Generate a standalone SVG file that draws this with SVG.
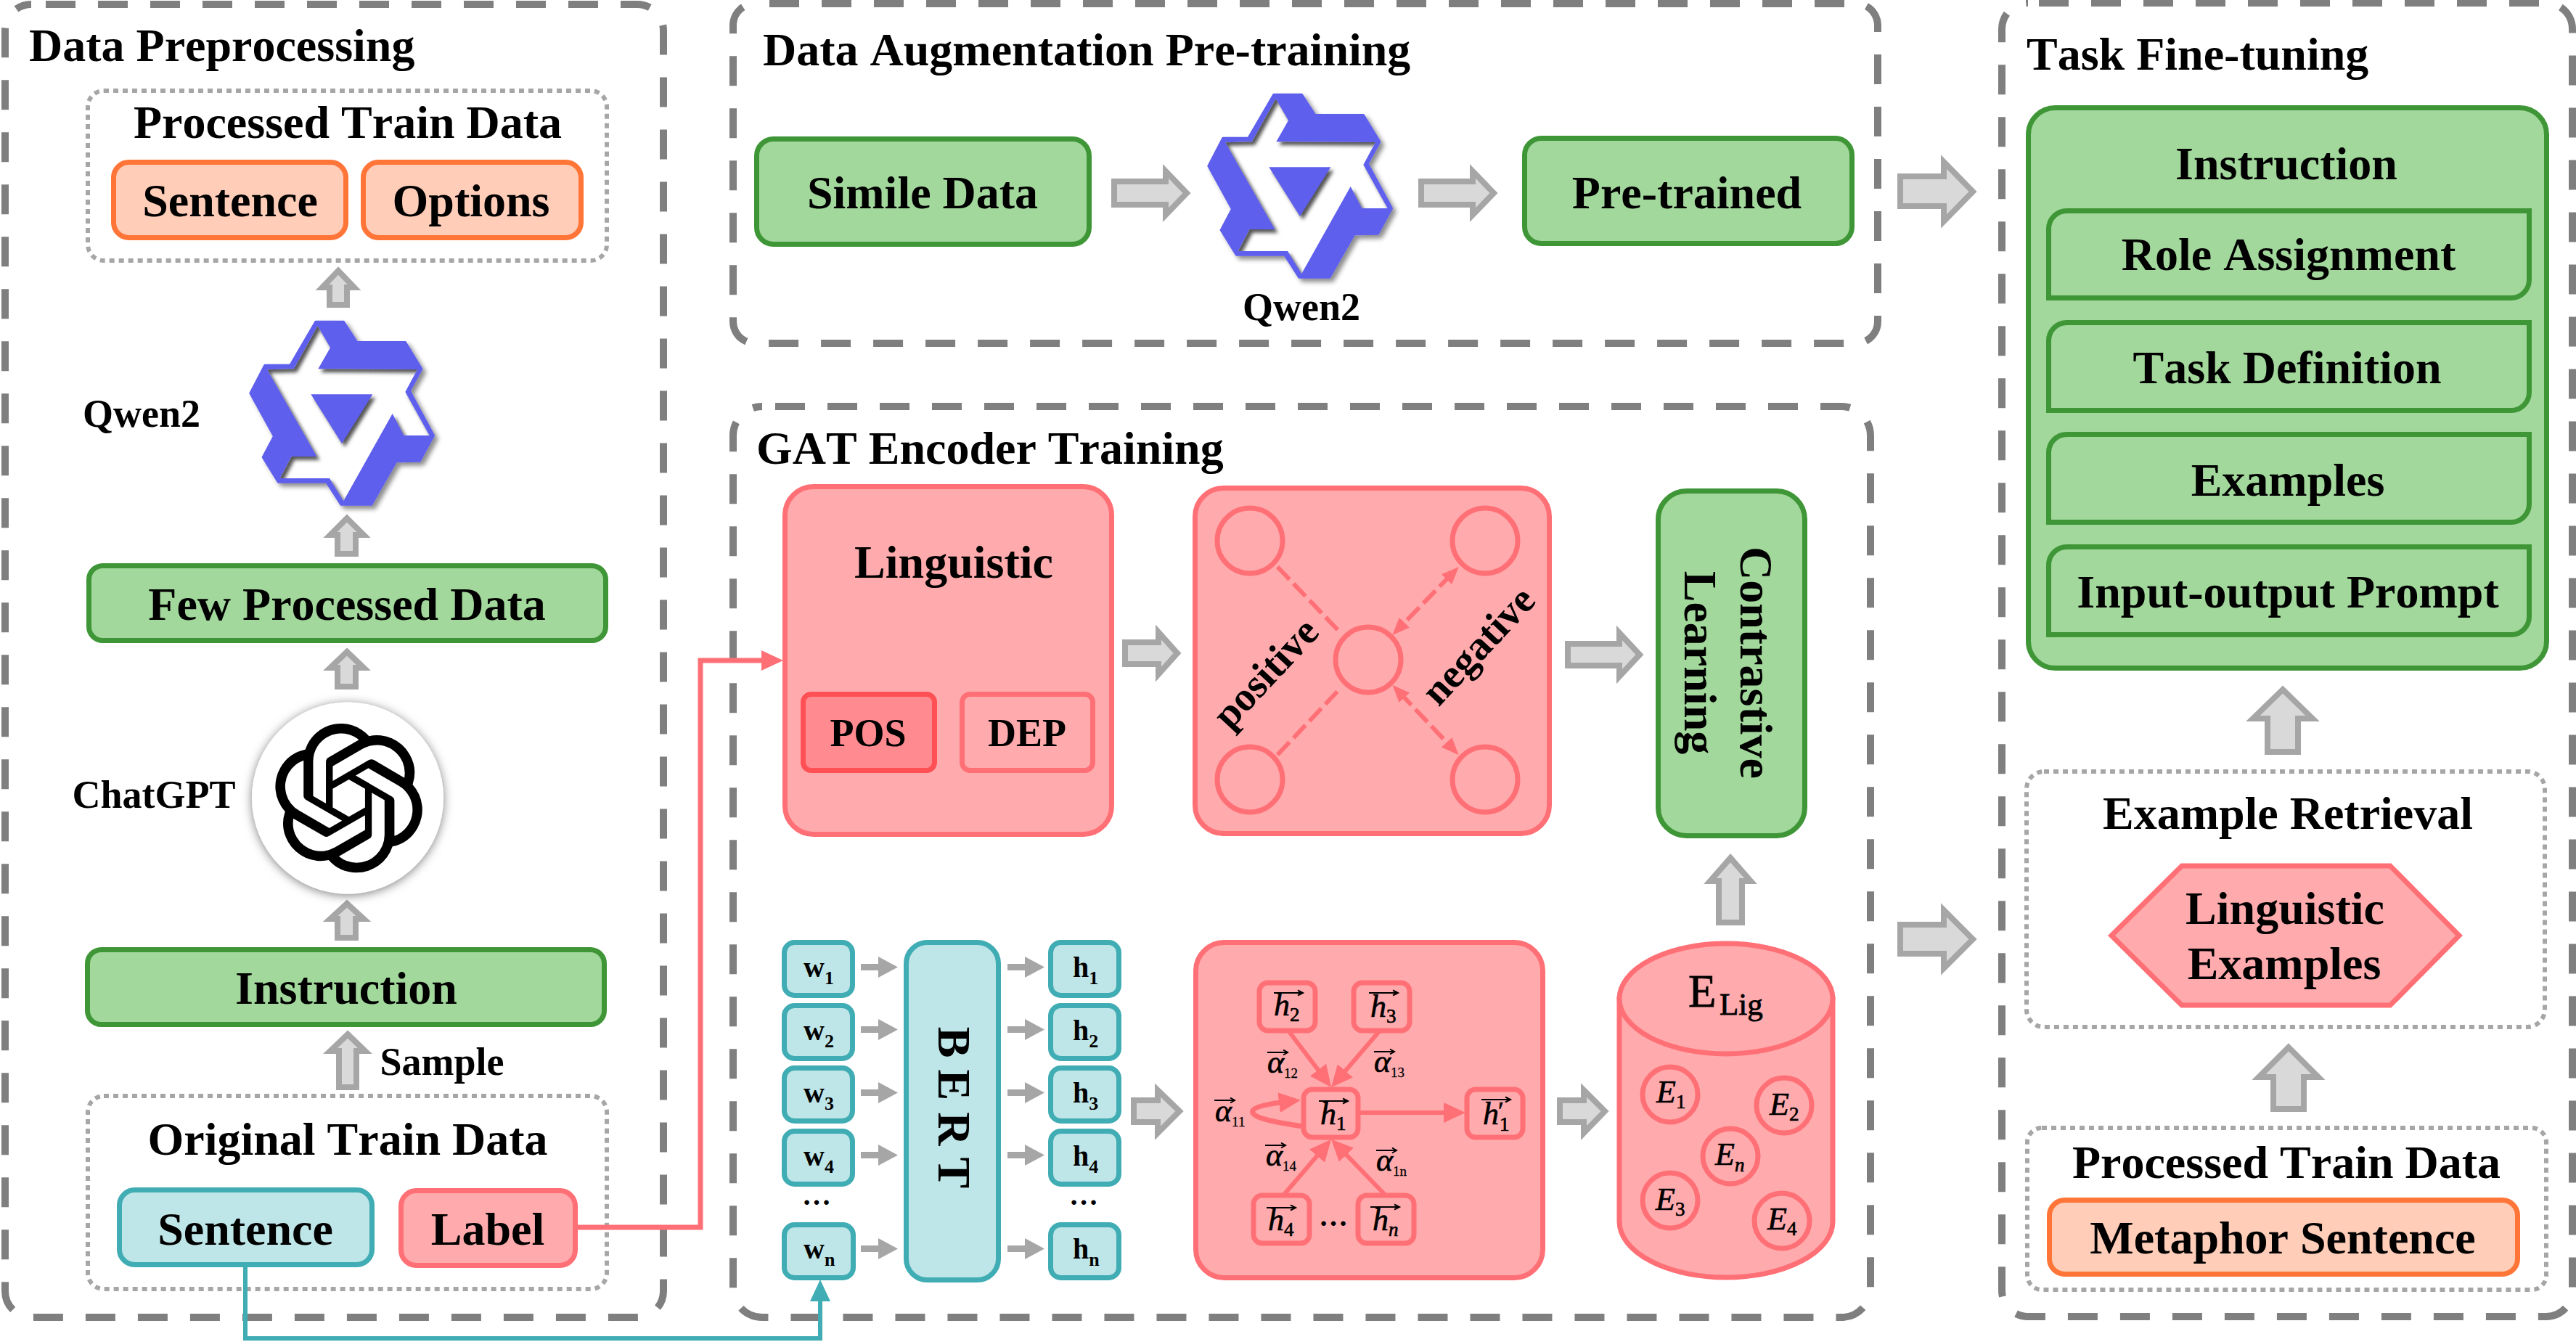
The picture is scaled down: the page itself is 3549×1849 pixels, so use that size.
<svg xmlns="http://www.w3.org/2000/svg" width="3549" height="1849" viewBox="0 0 3549 1849">
<style>
text{font-family:"Liberation Serif","Times New Roman",serif;fill:#000}
.t{font-weight:bold;font-size:64px;text-anchor:middle;font-kerning:none}
.l{font-weight:bold;font-size:54px;text-anchor:middle;font-kerning:none}
.s{font-weight:bold;font-size:40px}
.s tspan{font-size:26px}
.m{font-style:italic;font-size:44px;stroke:#000;stroke-width:.7}
.m tspan{font-size:27px;font-style:normal}
.a tspan{font-size:19px;font-style:normal;stroke-width:.3}
.frame{fill:none;stroke:#7f7f7f;stroke-width:10;stroke-dasharray:41 31}
.dot{fill:none;stroke:#a6a6a6;stroke-width:6;stroke-dasharray:7 6}
.g{fill:#a2d89b;stroke:#3f9637;stroke-width:7}
.o{fill:#ffcdb8;stroke:#ff7538;stroke-width:7}
.p{fill:#ffabae;stroke:#ff7076;stroke-width:7}
.b{fill:#bee6e8;stroke:#40acb3;stroke-width:7}
.ar{fill:#d9d9d9;stroke:#a6a6a6;stroke-width:8;stroke-miterlimit:10}
.sa{fill:#a6a6a6}
.pk{fill:none;stroke:#ff7076;stroke-width:6}
.dash{fill:none;stroke:#ff7076;stroke-width:6;stroke-dasharray:24 8}
.v{fill:none;stroke:#000;stroke-width:2}
</style>
<defs>
<marker id="mp" markerUnits="userSpaceOnUse" markerWidth="32" markerHeight="30" refX="10" refY="14" orient="auto"><path d="M0 0L30 14L0 28Z" fill="#ff7076"/></marker>
<marker id="mt" markerUnits="userSpaceOnUse" markerWidth="32" markerHeight="30" refX="10" refY="14" orient="auto"><path d="M0 0L30 14L0 28Z" fill="#40acb3"/></marker>
<marker id="md" markerUnits="userSpaceOnUse" markerWidth="26" markerHeight="22" refX="10" refY="10" orient="auto-start-reverse"><path d="M0 0L24 10L0 20Z" fill="#ff7076"/></marker>
<path id="vl" class="v" d="M0 0H40M33 -3.500L40 0L33 3.500"/>
<path id="va" class="v" d="M0 0H28M22 -3.500L28 0L22 3.500"/>
<filter id="ds" x="-30%" y="-30%" width="160%" height="160%"><feDropShadow dx="14" dy="14" stdDeviation="9" flood-color="#000" flood-opacity=".45"/></filter>
<filter id="blur" x="-30%" y="-30%" width="160%" height="160%"><feGaussianBlur stdDeviation="8"/></filter>
<filter id="cs" x="-20%" y="-20%" width="140%" height="140%"><feDropShadow dx="0" dy="2" stdDeviation="7" flood-color="#000" flood-opacity=".5"/></filter>
<clipPath id="wclip"><path d="M413 148L465 237L415 325L825 327L775 420L875 600L770 600L722 510L520 870L462 777L258 777L305 687L410 687L205 328L315 325Z"/></clipPath>
<g id="qwen" transform="scale(.33333)">
<path filter="url(#ds)" fill="#5f5fee" stroke="#5f5fee" stroke-width="10" stroke-linejoin="round" d="M405 130L520 130L575 215L775 215L842 325L792 415L892 600L835 705L737 707L635 885L510 885L450 792L250 792L187 690L233 603L135 425L195 310L300 310Z"/>
<path fill="#fff" d="M413 148L465 237L415 325L825 327L775 420L875 600L770 600L722 510L520 870L462 777L258 777L305 687L410 687L205 328L315 325Z"/>
<g clip-path="url(#wclip)"><path filter="url(#blur)" transform="translate(12,14)" fill="#555" fill-rule="evenodd" d="M100 100H920V920H100ZM413 148L465 237L415 325L825 327L775 420L875 600L770 600L722 510L520 870L462 777L258 777L305 687L410 687L205 328L315 325ZM385 430L640 430L513 633Z"/></g>
<path fill="#5f5fee" d="M385 430L640 430L513 633Z"/>
</g>
</defs>
<rect width="3549" height="1849" fill="#fff"/>

<g id="frames">
<rect id="frame-preprocessing" class="frame" x="7" y="6" width="907" height="1809" rx="36" stroke-dashoffset="-20"/>
<rect id="frame-augmentation" class="frame" x="1010" y="5" width="1577" height="468" rx="30" stroke-dashoffset="-20"/>
<rect id="frame-gat" class="frame" x="1010" y="560" width="1567" height="1255" rx="40" stroke-dashoffset="-18"/>
<rect id="frame-finetune" class="frame" x="2758" y="4" width="786" height="1810" rx="36" stroke-dashoffset="-15"/>
<text class="t" style="text-anchor:start" x="40" y="84">Data Preprocessing</text>
<text class="t" style="text-anchor:start" x="1051" y="90">Data Augmentation Pre-training</text>
<text class="t" style="text-anchor:start" x="1042" y="639">GAT Encoder Training</text>
<text class="t" style="text-anchor:start" x="2792" y="96">Task Fine-tuning</text>
<rect class="dot" x="121" y="125" width="715" height="234" rx="22"/>
<rect class="dot" x="121" y="1510" width="715" height="266" rx="22"/>
<rect class="dot" x="2792" y="1063" width="714" height="352" rx="24"/>
<rect class="dot" x="2793" y="1554" width="715" height="223" rx="20"/>
</g>

<g id="block-arrows">
<polygon class="ar" points="466,373 488,396 478,396 478,420 454,420 454,396 444,396"/>
<polygon class="ar" points="478,714 501,737 490,737 490,763 465,763 465,737 455,737"/>
<polygon class="ar" points="478,898 501,920 490,920 490,946 465,946 465,920 455,920"/>
<polygon class="ar" points="478,1245 501,1266 490,1266 490,1292 465,1292 465,1266 455,1266"/>
<polygon class="ar" points="479,1425 503,1448 491,1448 491,1498 467,1498 467,1448 455,1448"/>
<polygon class="ar" points="1535,250 1606,250 1606,236 1635,266 1606,296 1606,282 1535,282"/>
<polygon class="ar" points="1958,250 2029,250 2029,236 2058,266 2029,296 2029,282 1958,282"/>
<polygon class="ar" points="1550,885 1596,885 1596,871 1622,900 1596,929 1596,915 1550,915"/>
<polygon class="ar" points="2160,887 2231,887 2231,872 2259,902 2231,932 2231,917 2160,917"/>
<polygon class="ar" points="1562,1516 1595,1516 1595,1502 1625,1531 1595,1561 1595,1546 1562,1546"/>
<polygon class="ar" points="2149,1516 2182,1516 2182,1502 2211,1531 2182,1561 2182,1546 2149,1546"/>
<polygon class="ar" points="2384,1182 2412,1214 2400,1214 2400,1271 2368,1271 2368,1214 2356,1214"/>
<polygon class="ar" points="2618,243 2678,243 2678,223 2718,264 2678,305 2678,284 2618,284"/>
<polygon class="ar" points="2618,1274 2678,1274 2678,1254 2718,1294 2678,1334 2678,1314 2618,1314"/>
<polygon class="ar" points="3145,950 3186,990 3166,990 3166,1036 3124,1036 3124,990 3104,990"/>
<polygon class="ar" points="3153,1443 3194,1484 3174,1484 3174,1528 3132,1528 3132,1484 3112,1484"/>
</g>

<g id="small-arrows" class="sa">
<path d="M1186 1328H1210V1318L1237 1332.500L1210 1347V1337H1186Z"/>
<path d="M1186 1414H1210V1404L1237 1418.500L1210 1433V1423H1186Z"/>
<path d="M1186 1501H1210V1491L1237 1505.500L1210 1520V1510H1186Z"/>
<path d="M1186 1587H1210V1577L1237 1591.500L1210 1606V1596H1186Z"/>
<path d="M1186 1716H1210V1706L1237 1720.500L1210 1735V1725H1186Z"/>
<path d="M1388 1328H1412V1318L1439 1332.500L1412 1347V1337H1388Z"/>
<path d="M1388 1414H1412V1404L1439 1418.500L1412 1433V1423H1388Z"/>
<path d="M1388 1501H1412V1491L1439 1505.500L1412 1520V1510H1388Z"/>
<path d="M1388 1587H1412V1577L1439 1591.500L1412 1606V1596H1388Z"/>
<path d="M1388 1716H1412V1706L1439 1720.500L1412 1735V1725H1388Z"/>
</g>

<!-- Data Preprocessing -->
<g id="processed-train-data"><text class="t" x="479" y="190">Processed Train Data</text></g>
<g id="sentence-orange"><rect class="o" x="156.500" y="223.500" width="320" height="104" rx="21"/><text class="t" x="317" y="298">Sentence</text></g>
<g id="options"><rect class="o" x="500.500" y="223.500" width="300" height="104" rx="21"/><text class="t" x="649" y="298">Options</text></g>
<g id="qwen-1"><use href="#qwen" x="300" y="400"/><text class="l" x="195" y="588">Qwen2</text></g>
<g id="few-processed"><rect class="g" x="122.500" y="779.500" width="712" height="103" rx="19"/><text class="t" x="478" y="854">Few Processed Data</text></g>
<g id="chatgpt">
<circle cx="479" cy="1099.500" r="132" fill="#fff" filter="url(#cs)"/>
<path transform="translate(378,997) scale(8.550)" d="M22.2819 9.8211a5.9847 5.9847 0 0 0-.5157-4.9108 6.0462 6.0462 0 0 0-6.5098-2.9A6.0651 6.0651 0 0 0 4.9807 4.1818a5.9847 5.9847 0 0 0-3.9977 2.9 6.0462 6.0462 0 0 0 .7427 7.0966 5.98 5.98 0 0 0 .511 4.9107 6.051 6.051 0 0 0 6.5146 2.9001A5.9847 5.9847 0 0 0 13.2599 24a6.0557 6.0557 0 0 0 5.7718-4.2058 5.9894 5.9894 0 0 0 3.9977-2.9001 6.0557 6.0557 0 0 0-.7475-7.0729zm-9.022 12.6081a4.4755 4.4755 0 0 1-2.8764-1.0408l.1419-.0804 4.7783-2.7582a.7948.7948 0 0 0 .3927-.6813v-6.7369l2.02 1.1686a.071.071 0 0 1 .038.052v5.5826a4.504 4.504 0 0 1-4.4945 4.4944zm-9.6607-4.1254a4.4708 4.4708 0 0 1-.5346-3.0137l.142.0852 4.783 2.7582a.7712.7712 0 0 0 .7806 0l5.8428-3.3685v2.3324a.0804.0804 0 0 1-.0332.0615L9.74 19.9502a4.4992 4.4992 0 0 1-6.1408-1.6464zM2.3408 7.8956a4.485 4.485 0 0 1 2.3655-1.9728V11.6a.7664.7664 0 0 0 .3879.6765l5.8144 3.3543-2.0201 1.1685a.0757.0757 0 0 1-.071 0l-4.8303-2.7865A4.504 4.504 0 0 1 2.3408 7.872zm16.5963 3.8558L13.1038 8.364 15.1192 7.2a.0757.0757 0 0 1 .071 0l4.8303 2.7913a4.4944 4.4944 0 0 1-.6765 8.1042v-5.6772a.79.79 0 0 0-.407-.667zm2.0107-3.0231l-.142-.0852-4.7735-2.7818a.7759.7759 0 0 0-.7854 0L9.409 9.2297V6.8974a.0662.0662 0 0 1 .0284-.0615l4.8303-2.7866a4.4992 4.4992 0 0 1 6.6802 4.66zM8.3065 12.863l-2.02-1.1638a.0804.0804 0 0 1-.038-.0567V6.0742a4.4992 4.4992 0 0 1 7.3757-3.4537l-.142.0805L8.704 5.459a.7948.7948 0 0 0-.3927.6813zm1.0976-2.3654l2.602-1.4998 2.6069 1.4998v2.9994l-2.5974 1.4997-2.6067-1.4997Z"/>
<text class="l" x="212" y="1113">ChatGPT</text></g>
<g id="instruction-1"><rect class="g" x="120.500" y="1308.500" width="712" height="103" rx="19"/><text class="t" x="477" y="1383">Instruction</text></g>
<text class="l" x="609" y="1481">Sample</text>
<g id="original-train-data"><text class="t" x="479" y="1591">Original Train Data</text></g>
<g id="sentence-teal"><rect class="b" x="164.500" y="1639.500" width="348" height="103" rx="21"/><text class="t" x="338" y="1715">Sentence</text></g>
<g id="label"><rect class="p" x="552.500" y="1640.500" width="240" height="103" rx="21"/><text class="t" x="672" y="1715">Label</text></g>

<!-- Augmentation -->
<g id="simile"><rect class="g" x="1042.500" y="191.500" width="458" height="145" rx="23"/><text class="t" x="1271" y="287">Simile Data</text></g>
<g id="qwen-2"><use href="#qwen" x="1620" y="87"/><text class="l" x="1793" y="441">Qwen2</text></g>
<g id="pretrained"><rect class="g" x="2100.500" y="190.500" width="451" height="145" rx="23"/><text class="t" x="2324" y="287">Pre-trained</text></g>

<!-- GAT -->
<g id="linguistic"><rect class="p" x="1081.500" y="670.500" width="450" height="479" rx="39"/><text class="t" x="1314" y="796">Linguistic</text>
<rect x="1106.500" y="956.500" width="181" height="105" rx="11" fill="#ff8a8f" stroke="#ff5055" stroke-width="7"/><text class="l" x="1196" y="1028">POS</text>
<rect class="p" x="1325.500" y="956.500" width="180" height="105" rx="11"/><text class="l" x="1415" y="1028">DEP</text></g>
<g id="contrast-graph"><rect class="p" x="1646.500" y="672.500" width="488" height="476" rx="39"/>
<circle class="pk" style="stroke-width:7" cx="1722" cy="745" r="45"/><circle class="pk" style="stroke-width:7" cx="2046" cy="745" r="45"/><circle class="pk" style="stroke-width:7" cx="1722" cy="1074" r="45"/><circle class="pk" style="stroke-width:7" cx="2046" cy="1074" r="45"/><circle class="pk" style="stroke-width:7" cx="1885" cy="909" r="45"/>
<text class="t" style="font-size:56px" transform="translate(1757,940) rotate(-47)">positive</text>
<text class="t" style="font-size:56px" transform="translate(2050,902) rotate(-47)">negative</text></g>
<g id="contrastive"><rect class="g" x="2284.500" y="676.500" width="202" height="475" rx="39"/>
<text class="t" transform="translate(2398,913) rotate(90)">Contrastive</text>
<text class="t" transform="translate(2321,913) rotate(90)">Learning</text></g>

<g id="w1"><rect class="b" x="1080.500" y="1298.500" width="94" height="73" rx="14"/><text class="s" x="1107" y="1346">w<tspan dy="10">1</tspan></text></g>
<g id="w2"><rect class="b" x="1080.500" y="1385.500" width="94" height="73" rx="14"/><text class="s" x="1107" y="1433">w<tspan dy="10">2</tspan></text></g>
<g id="w3"><rect class="b" x="1080.500" y="1471.500" width="94" height="73" rx="14"/><text class="s" x="1107" y="1519">w<tspan dy="10">3</tspan></text></g>
<g id="w4"><rect class="b" x="1080.500" y="1558.500" width="94" height="73" rx="14"/><text class="s" x="1107" y="1606">w<tspan dy="10">4</tspan></text></g>
<text class="s" x="1105" y="1660">…</text>
<g id="wn"><rect class="b" x="1080.500" y="1687.500" width="95" height="73" rx="14"/><text class="s" x="1107" y="1734">w<tspan dy="10">n</tspan></text></g>
<g id="bert"><rect class="b" x="1248.500" y="1298.500" width="127" height="465" rx="29"/><text class="t" transform="translate(1293,1526) rotate(90)">B E R T</text></g>
<g id="h1"><rect class="b" x="1447.500" y="1298.500" width="94" height="73" rx="14"/><text class="s" x="1478" y="1346">h<tspan dy="10">1</tspan></text></g>
<g id="h2"><rect class="b" x="1447.500" y="1385.500" width="94" height="73" rx="14"/><text class="s" x="1478" y="1433">h<tspan dy="10">2</tspan></text></g>
<g id="h3"><rect class="b" x="1447.500" y="1471.500" width="94" height="73" rx="14"/><text class="s" x="1478" y="1519">h<tspan dy="10">3</tspan></text></g>
<g id="h4"><rect class="b" x="1447.500" y="1558.500" width="94" height="73" rx="14"/><text class="s" x="1478" y="1606">h<tspan dy="10">4</tspan></text></g>
<text class="s" x="1473" y="1660">…</text>
<g id="hn"><rect class="b" x="1447.500" y="1687.500" width="94" height="73" rx="14"/><text class="s" x="1478" y="1734">h<tspan dy="10">n</tspan></text></g>

<g id="gat-box"><rect class="p" x="1647.500" y="1298.500" width="478" height="462" rx="39"/>
<rect class="p" x="1735" y="1354" width="77" height="66" rx="12"/><text class="m" x="1755" y="1399">h<tspan dy="8">2</tspan></text><use href="#vl" x="1755" y="1368"/>
<rect class="p" x="1865" y="1354" width="77" height="66" rx="12"/><text class="m" x="1888" y="1401">h<tspan dy="8">3</tspan></text><use href="#vl" x="1886" y="1368"/>
<rect class="p" x="1796" y="1501" width="75" height="66" rx="12"/><text class="m" x="1819" y="1549">h<tspan dy="8">1</tspan></text><use href="#vl" x="1817" y="1517"/>
<rect class="p" x="2021" y="1501" width="77" height="66" rx="12"/><text class="m" x="2043" y="1549">h<tspan x="2064" y="1543" style="font-size:36px">′</tspan><tspan x="2066" y="1558">1</tspan></text><use href="#vl" x="2041" y="1515"/>
<rect class="p" x="1727" y="1647" width="77" height="66" rx="12"/><text class="m" x="1747" y="1695">h<tspan dy="8">4</tspan></text><use href="#vl" x="1745" y="1664"/>
<rect class="p" x="1871" y="1647" width="77" height="66" rx="12"/><text class="m" x="1891" y="1695">h<tspan dy="8" style="font-style:italic">n</tspan></text><use href="#vl" x="1888" y="1663"/>
<text class="s" x="1817" y="1689">…</text>
<text class="m a" x="1746" y="1478">α<tspan dy="7">12</tspan></text><use href="#va" x="1746" y="1450"/>
<text class="m a" x="1893" y="1477">α<tspan dy="7">13</tspan></text><use href="#va" x="1893" y="1449"/>
<text class="m a" x="1674" y="1545">α<tspan dy="7">11</tspan></text><use href="#va" x="1673" y="1516"/>
<text class="m a" x="1744" y="1606">α<tspan dy="7">14</tspan></text><use href="#va" x="1743" y="1578"/>
<text class="m a" x="1896" y="1613">α<tspan dy="7">1n</tspan></text><use href="#va" x="1896" y="1585"/>
</g>

<g id="database">
<path class="p" d="M2231 1376V1683A147 77 0 0 0 2525 1683V1376Z"/>
<ellipse class="p" cx="2378" cy="1376" rx="147" ry="76"/>
<text style="font-size:63px;stroke:#000;stroke-width:.8" x="2326" y="1387">E<tspan x="2369" y="1398" style="font-size:43px">Lig</tspan></text>
<circle class="p" cx="2301" cy="1508" r="38"/><text class="m" x="2282" y="1519">E<tspan dy="8">1</tspan></text>
<circle class="p" cx="2458" cy="1523" r="38"/><text class="m" x="2438" y="1536">E<tspan dy="8">2</tspan></text>
<circle class="p" cx="2384" cy="1593" r="38"/><text class="m" x="2363" y="1605">E<tspan dy="9" style="font-style:italic">n</tspan></text>
<circle class="p" cx="2301" cy="1654" r="38"/><text class="m" x="2281" y="1667">E<tspan dy="8">3</tspan></text>
<circle class="p" cx="2455" cy="1682" r="38"/><text class="m" x="2435" y="1694">E<tspan dy="8">4</tspan></text>
</g>

<!-- Fine-tuning -->
<g id="instruction-2"><rect class="g" x="2794.500" y="148.500" width="714" height="772" rx="37"/><text class="t" x="3150" y="247">Instruction</text>
<path class="g" d="M2822.500 410.500V315.500A25 25 0 0 1 2847.500 290.500H3484.500V385.500A25 25 0 0 1 3459.500 410.500Z"/><text class="t" x="3153" y="372">Role Assignment</text>
<path class="g" d="M2822.500 565.500V469.500A25 25 0 0 1 2847.500 444.500H3484.500V540.500A25 25 0 0 1 3459.500 565.500Z"/><text class="t" x="3151" y="528">Task Definition</text>
<path class="g" d="M2822.500 719.500V623.500A25 25 0 0 1 2847.500 598.500H3484.500V694.500A25 25 0 0 1 3459.500 719.500Z"/><text class="t" x="3152" y="683">Examples</text>
<path class="g" d="M2822.500 874.500V778.500A25 25 0 0 1 2847.500 753.500H3484.500V849.500A25 25 0 0 1 3459.500 874.500Z"/><text class="t" x="3152" y="837">Input-output Prompt</text>
</g>
<g id="example-retrieval"><text class="t" x="3152" y="1142">Example Retrieval</text>
<polygon class="p" points="2909,1289 3006,1193 3293,1193 3388,1289 3293,1385 3006,1385"/>
<text class="t" x="3148" y="1273">Linguistic</text><text class="t" x="3147" y="1349">Examples</text></g>
<g id="processed-2"><text class="t" x="3150" y="1623">Processed Train Data</text>
<rect class="o" x="2823.500" y="1653.500" width="645" height="102" rx="21"/><text class="t" x="3145" y="1727">Metaphor Sentence</text></g>

<g id="connectors">
<path class="pk" style="stroke-width:7" d="M792 1691H965V910H1059" marker-end="url(#mp)"/>
<path fill="none" stroke="#40acb3" stroke-width="6" d="M338 1742V1844H1130V1783" marker-end="url(#mt)"/>
<path class="pk" d="M1775 1420L1822 1482" marker-end="url(#mp)"/>
<path class="pk" d="M1901 1420L1847 1483" marker-end="url(#mp)"/>
<path class="pk" d="M1768 1647L1821 1585" marker-end="url(#mp)"/>
<path class="pk" d="M1909 1647L1848 1584" marker-end="url(#mp)"/>
<path class="pk" d="M1871 1533H1999" marker-end="url(#mp)"/>
<path class="pk" style="stroke-width:7" d="M1796 1552C1745 1545 1722 1538 1726 1530C1730 1524 1755 1520 1772 1518" marker-end="url(#mp)"/>
<path class="dash" d="M1760 781L1847 872"/>
<path class="dash" d="M1760 1040L1847 948"/>
<path class="dash" d="M2000 791L1928 865" marker-start="url(#md)" marker-end="url(#md)"/>
<path class="dash" d="M1928 954L2000 1030" marker-start="url(#md)" marker-end="url(#md)"/>
</g>
</svg>
